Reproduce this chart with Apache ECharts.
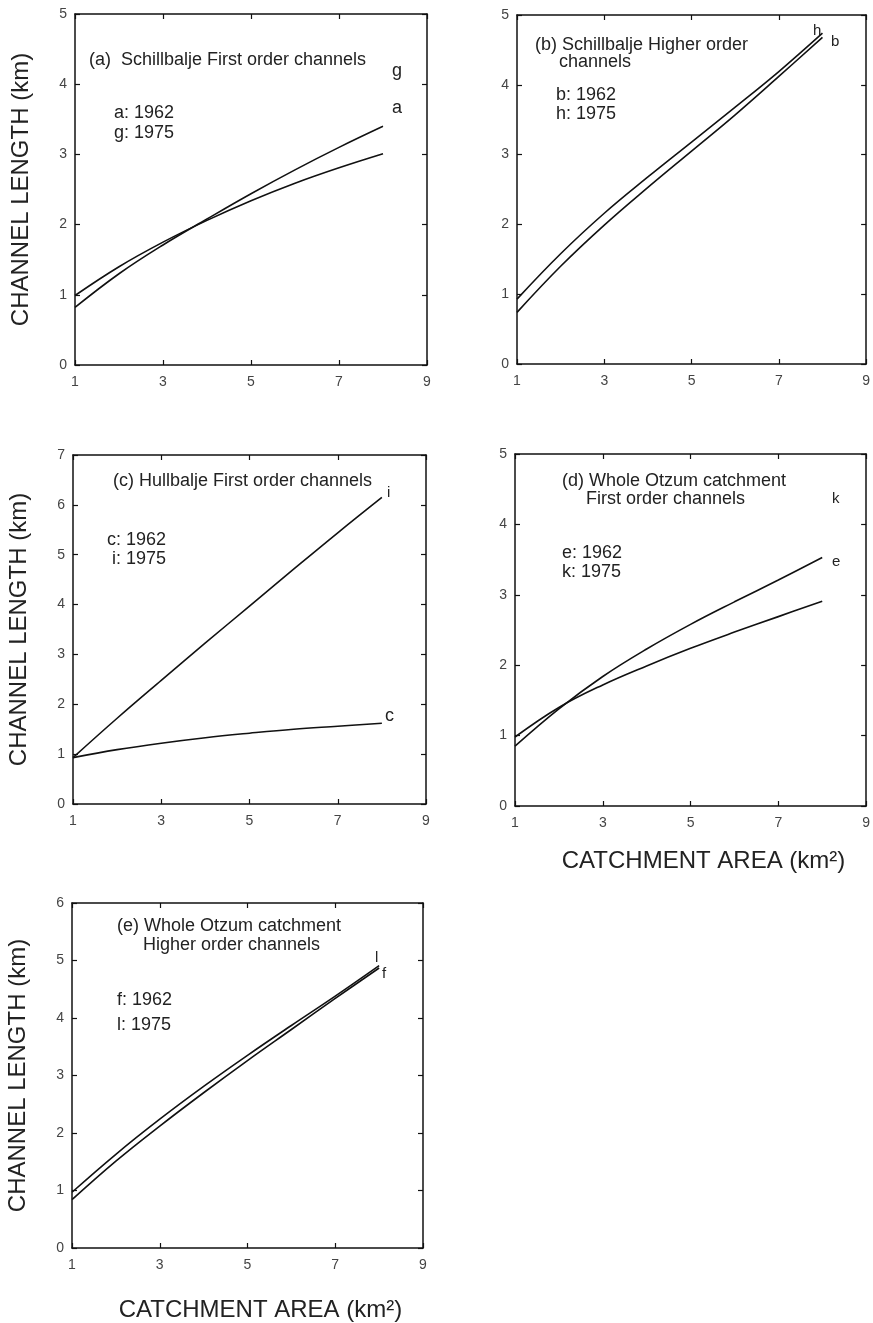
<!DOCTYPE html>
<html>
<head>
<meta charset="utf-8">
<script src="https://cdn.jsdelivr.net/npm/echarts@6/dist/echarts.min.js"></script>
<style>
html,body{margin:0;padding:0;background:#fff;}
#chart{width:873px;height:1323px;}
</style>
</head>
<body>
<div id="chart"></div>
<script>
// ---- data ----
const area = [1, 2, 3, 4, 5, 6, 7, 8];            // catchment area (km²)
const xTicks = [1, 3, 5, 7, 9];

// (a) Schillbalje first order channels
const a1962 = [0.99, 1.40, 1.75, 2.06, 2.34, 2.59, 2.81, 3.01];
const g1975 = [0.82, 1.30, 1.71, 2.08, 2.44, 2.78, 3.10, 3.40];
// (b) Schillbalje higher order channels
const b1962 = [0.74, 1.40, 1.99, 2.53, 3.05, 3.57, 4.12, 4.68];
const h1975 = [0.93, 1.58, 2.16, 2.68, 3.18, 3.68, 4.19, 4.74];
// (c) Hullbalje first order channels
const c1962 = [0.93, 1.09, 1.22, 1.33, 1.42, 1.50, 1.56, 1.62];
const i1975 = [0.93, 1.72, 2.48, 3.23, 3.97, 4.71, 5.44, 6.15];
// (d) Whole Otzum catchment first order channels
const e1962 = [0.98, 1.40, 1.72, 1.99, 2.24, 2.47, 2.69, 2.91];
const k1975 = [0.85, 1.38, 1.84, 2.23, 2.58, 2.90, 3.21, 3.53];
// (e) Whole Otzum catchment higher order channels
const f1962 = [0.84, 1.51, 2.12, 2.70, 3.26, 3.80, 4.34, 4.87];
const l1975 = [0.97, 1.63, 2.24, 2.81, 3.35, 3.87, 4.38, 4.91];

const yMaxA = 5, yMaxB = 5, yMaxC = 7, yMaxD = 5, yMaxE = 6;
const yTitle = 'CHANNEL LENGTH (km)';
const xTitle = 'CATCHMENT AREA (km²)';

// ---- layout ----
const FONT = 'Liberation Sans, Arial, sans-serif';
const panels = [
  {grid:{left:75, top:14, width:352, height:351}, ymax:yMaxA, yName:true,  xName:false, s:[a1962, g1975]},
  {grid:{left:517,top:15, width:354, height:349}, ymax:yMaxB, yName:false, xName:false, s:[b1962, h1975]},
  {grid:{left:73, top:455,width:353, height:349}, ymax:yMaxC, yName:true,  xName:false, s:[c1962, i1975]},
  {grid:{left:515,top:454,width:355, height:352}, ymax:yMaxD, yName:false, xName:true,  s:[e1962, k1975]},
  {grid:{left:72, top:903,width:351, height:350}, ymax:yMaxE, yName:true,  xName:true,  s:[f1962, l1975]}
];

const lineStyle = {color:'#111', width:1.5};
const tickStyle = {show:true, inside:true, length:5, lineStyle:{color:'#111', width:1.2}};
const labelStyle = {fontSize:14, color:'#444', fontFamily:FONT};

const grids = [], xAxes = [], yAxes = [], series = [];
panels.forEach((p, gi) => {
  grids.push(Object.assign({containLabel:false}, p.grid));
  // bottom x
  xAxes.push({
    type:'value', gridIndex:gi, position:'bottom', min:1, max:9,
    axisLine:{show:true, onZero:false, lineStyle},
    axisTick:Object.assign({customValues:xTicks}, tickStyle),
    axisLabel:Object.assign({customValues:xTicks, margin:10}, labelStyle),
    splitLine:{show:false},
    name: p.xName ? xTitle : '', nameLocation:'middle', nameGap: gi === 3 ? 43 : 50,
    nameTextStyle:{fontSize:24, color:'#222', fontFamily:FONT, padding:[0,0,0,26]}
  });
  // top x (mirror ticks)
  xAxes.push({
    type:'value', gridIndex:gi, position:'top', min:1, max:9,
    axisLine:{show:true, onZero:false, lineStyle},
    axisTick:Object.assign({customValues:xTicks}, tickStyle),
    axisLabel:{show:false}, splitLine:{show:false}
  });
  // left y
  yAxes.push({
    type:'value', gridIndex:gi, position:'left', min:0, max:p.ymax, interval:1,
    axisLine:{show:true, onZero:false, lineStyle},
    axisTick:tickStyle,
    axisLabel:Object.assign({margin:8}, labelStyle),
    splitLine:{show:false},
    name: p.yName ? yTitle : '', nameLocation:'middle', nameGap:42, nameRotate:90,
    nameTextStyle:{fontSize:24, color:'#222', fontFamily:FONT}
  });
  // right y (mirror ticks)
  yAxes.push({
    type:'value', gridIndex:gi, position:'right', min:0, max:p.ymax, interval:1,
    axisLine:{show:true, onZero:false, lineStyle},
    axisTick:tickStyle,
    axisLabel:{show:false}, splitLine:{show:false}
  });
  p.s.forEach(arr => {
    series.push({
      type:'line', xAxisIndex:gi*2, yAxisIndex:gi*2, smooth:0.4, symbol:'none',
      lineStyle:{color:'#111', width:1.6}, silent:true,
      data: area.map((x, k) => [x, arr[k]])
    });
  });
});

function txt(x, y, s, size) {
  return {type:'text', left:x, top:y - (size||18)*0.6,
    style:{text:s, fontSize:size||18, fill:'#222', fontFamily:FONT}};
}
const graphics = [
  txt(89, 62, '(a)  Schillbalje First order channels'),
  txt(114, 115, 'a: 1962'), txt(114, 135, 'g: 1975'),
  txt(392, 73, 'g'), txt(392, 110, 'a'),

  txt(535, 47, '(b) Schillbalje Higher order'), txt(559, 64, 'channels'),
  txt(556, 97, 'b: 1962'), txt(556, 116, 'h: 1975'),
  txt(813, 32, 'h', 15), txt(831, 43, 'b', 15),

  txt(113, 483, '(c) Hullbalje First order channels'),
  txt(107, 542, 'c: 1962'), txt(112, 561, 'i: 1975'),
  txt(387, 494, 'i', 15), txt(385, 718, 'c'),

  txt(562, 483, '(d) Whole Otzum catchment'), txt(586, 501, 'First order channels'),
  txt(562, 555, 'e: 1962'), txt(562, 574, 'k: 1975'),
  txt(832, 500, 'k', 15), txt(832, 563, 'e', 15),

  txt(117, 928, '(e) Whole Otzum catchment'), txt(143, 947, 'Higher order channels'),
  txt(117, 1002, 'f: 1962'), txt(117, 1027, 'l: 1975'),
  txt(375, 959, 'l', 15), txt(382, 975, 'f', 15)
];

const chart = echarts.init(document.getElementById('chart'), null, {renderer:'canvas'});
chart.setOption({
  backgroundColor:'#fff',
  animation:false,
  grid:grids, xAxis:xAxes, yAxis:yAxes, series:series,
  graphic:graphics
});
</script>
</body>
</html>
